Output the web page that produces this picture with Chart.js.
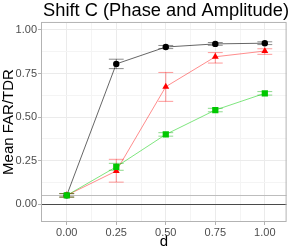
<!DOCTYPE html>
<html>
<head>
<meta charset="utf-8">
<script src="https://cdn.jsdelivr.net/npm/chart.js@4"></script>
<style>
  html, body { margin: 0; padding: 0; background: #fff; }
  #wrap { width: 291px; height: 251px; }
</style>
</head>
<body>
<div id="wrap"><canvas id="myChart" width="291" height="251"></canvas></div>
<script>
// data
const dVals = [0, 0.25, 0.5, 0.75, 1.0];

const blackY = [0.05, 0.805, 0.902, 0.92, 0.924];
const blackLo = [0.04, 0.778, 0.893, 0.912, 0.916];
const blackHi = [0.06, 0.832, 0.911, 0.928, 0.932];

const redY = [0.05, 0.19, 0.674, 0.846, 0.879];
const redLo = [0.04, 0.126, 0.59, 0.81, 0.86];
const redHi = [0.06, 0.257, 0.756, 0.87, 0.892];

const greenY = [0.05, 0.214, 0.40, 0.54, 0.636];
const greenLo = [0.04, 0.194, 0.39, 0.53, 0.626];
const greenHi = [0.06, 0.234, 0.41, 0.55, 0.646];

const xTicks = [0, 0.25, 0.5, 0.75, 1.0];
const xMinor = [-0.125, 0.125, 0.375, 0.625, 0.875];
const yTicks = [0, 0.25, 0.5, 0.75, 1.0];
const yMinor = [0.125, 0.375, 0.625, 0.875];
const refLines = [0, 0.05];

function pts(ys) {
  return dVals.map((d, i) => ({ x: d, y: ys[i] }));
}

function isMajor(v) {
  return Math.abs(v * 4 - Math.round(v * 4)) < 1e-6;
}

// horizontal reference lines + error bars + panel border
const extras = {
  id: "extras",
  beforeDatasetsDraw(chart) {
    const c = chart.ctx;
    const xs = chart.scales.x;
    const ys = chart.scales.y;
    const a = chart.chartArea;
    c.save();
    // ref lines
    c.lineWidth = 1;
    c.strokeStyle = "#BDBDBD";
    let py = Math.round(ys.getPixelForValue(refLines[1])) + 0.5;
    c.beginPath(); c.moveTo(a.left, py); c.lineTo(a.right, py); c.stroke();
    c.strokeStyle = "#4a4a4a";
    py = Math.round(ys.getPixelForValue(refLines[0])) + 0.5;
    c.beginPath(); c.moveTo(a.left, py); c.lineTo(a.right, py); c.stroke();

    // error bars
    const bars = [
      [blackLo, blackHi, "rgba(0,0,0,0.45)"],
      [redLo, redHi, "rgba(255,0,0,0.4)"],
      [greenLo, greenHi, "rgba(0,170,0,0.45)"],
    ];
    bars.forEach(([lo, hi, col]) => {
      c.strokeStyle = col;
      c.lineWidth = 1;
      dVals.forEach((d, i) => {
        const x = xs.getPixelForValue(d);
        const xl = xs.getPixelForValue(d - 0.0375);
        const xr = xs.getPixelForValue(d + 0.0375);
        const y1 = ys.getPixelForValue(lo[i]);
        const y2 = ys.getPixelForValue(hi[i]);
        c.beginPath();
        c.moveTo(x, y1); c.lineTo(x, y2);
        c.moveTo(xl, y1); c.lineTo(xr, y1);
        c.moveTo(xl, y2); c.lineTo(xr, y2);
        c.stroke();
      });
    });
    c.restore();
  },
  afterDraw(chart) {
    const c = chart.ctx;
    const a = chart.chartArea;
    c.save();
    c.strokeStyle = "#B3B3B3";
    c.lineWidth = 1;
    c.strokeRect(a.left + 0.5, a.top + 0.5, a.right - a.left - 1, a.bottom - a.top - 1);
    c.restore();
  },
};

const ctx = document.getElementById("myChart");

new Chart(ctx, {
  type: "line",
  data: {
    datasets: [
      {
        label: "black",
        data: pts(blackY),
        borderColor: "rgba(0,0,0,0.6)",
        borderWidth: 1,
        pointStyle: "circle",
        pointRadius: 3.2,
        pointBackgroundColor: "#000",
        pointBorderWidth: 0,
        order: 3,
      },
      {
        label: "red",
        data: pts(redY),
        borderColor: "rgba(255,0,0,0.45)",
        borderWidth: 1,
        pointStyle: "triangle",
        pointRadius: 4,
        pointBackgroundColor: "#FF0000",
        pointBorderWidth: 0,
        order: 2,
      },
      {
        label: "green",
        data: pts(greenY),
        borderColor: "rgba(0,205,0,0.5)",
        borderWidth: 1,
        pointStyle: "rect",
        pointRadius: 4.4,
        pointBackgroundColor: "#00C800",
        pointBorderWidth: 0,
        order: 1,
      },
    ],
  },
  options: {
    animation: false,
    responsive: false,
    devicePixelRatio: 1,
    layout: { padding: { left: 0, right: 2, top: 0, bottom: 0 } },
    plugins: {
      legend: { display: false },
      tooltip: { enabled: false },
      title: {
        display: true,
        text: "Shift C (Phase and Amplitude)",
        color: "#000",
        font: { family: "Liberation Sans", size: 18.3, weight: "normal", lineHeight: 1.2 },
        padding: { top: 0, bottom: 0 },
        align: "end",
      },
    },
    scales: {
      x: {
        type: "linear",
        min: -0.13,
        max: 1.11,
        afterBuildTicks(scale) {
          scale.ticks = xTicks.concat(xMinor).sort((p, q) => p - q).map((v) => ({ value: v }));
        },
        afterFit(scale) {
          scale.height = 29;
        },
        border: { display: false },
        grid: {
          color: (c) => (isMajor(c.tick.value) ? "#EBEBEB" : "#F4F4F4"),
          tickColor: (c) => (isMajor(c.tick.value) ? "#B3B3B3" : "rgba(0,0,0,0)"),
          tickLength: 3,
          lineWidth: 1,
        },
        ticks: {
          autoSkip: false,
          maxRotation: 0,
          padding: 1,
          color: "#4D4D4D",
          font: { family: "Liberation Sans", size: 11 },
          callback: (v) => (isMajor(v) ? v.toFixed(2) : ""),
        },
        title: {
          display: true,
          text: "d",
          color: "#000",
          font: { family: "Liberation Sans", size: 15 },
          padding: { top: 1, bottom: 0 },
        },
      },
      y: {
        type: "linear",
        min: -0.103,
        max: 1.046,
        afterBuildTicks(scale) {
          scale.ticks = yTicks.concat(yMinor).sort((p, q) => p - q).map((v) => ({ value: v }));
        },
        afterFit(scale) {
          scale.width = 41;
        },
        border: { display: false },
        grid: {
          color: (c) => (isMajor(c.tick.value) ? "#EBEBEB" : "#F4F4F4"),
          tickColor: (c) => (isMajor(c.tick.value) ? "#B3B3B3" : "rgba(0,0,0,0)"),
          tickLength: 3,
          lineWidth: 1,
        },
        ticks: {
          autoSkip: false,
          padding: 1,
          color: "#4D4D4D",
          font: { family: "Liberation Sans", size: 11 },
          callback: (v) => (isMajor(v) ? v.toFixed(2) : ""),
        },
        title: {
          display: true,
          text: "Mean FAR/TDR",
          color: "#000",
          font: { family: "Liberation Sans", size: 15 },
          padding: { top: 0, bottom: 0 },
        },
      },
    },
  },
  plugins: [extras],
});
</script>
</body>
</html>
